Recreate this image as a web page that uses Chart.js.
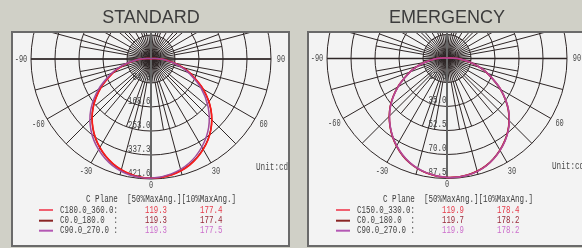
<!DOCTYPE html>
<html><head><meta charset="utf-8">
<script src="https://cdn.jsdelivr.net/npm/chart.js@4"></script>
<style>html,body{margin:0;padding:0;background:#d0d0c7;}canvas{display:block}</style>
</head><body>
<canvas id="c" width="582" height="248"></canvas>
<script>
// ---------- data ----------
const angles = [0, 10, 20, 30, 40, 50, 60, 70, 75, 80, 85, 90, 100, 120, 150, 180];

const stdC180Left  = [419, 411, 391, 359, 317, 265, 204, 142, 112, 82, 56, 37, 10, 2.5, 1.3, 1.3];
const stdC180Right = [419, 414, 397, 367, 327, 275, 212, 147, 116, 85, 57, 37, 10, 2.5, 1.3, 1.3];
const stdC0Left    = [419, 412, 392, 360, 318, 266, 205, 143, 113, 83, 56, 37, 10, 2.5, 1.3, 1.3];
const stdC0Right   = [419, 413, 396, 366, 326, 274, 211, 146, 115, 84, 57, 37, 10, 2.5, 1.3, 1.3];
const stdC90Left   = [419, 415, 398, 368, 328, 276, 213, 148, 117, 86, 58, 38, 11, 2.6, 1.3, 1.3];
const stdC90Right  = [419, 410, 390, 357, 315, 262, 202, 140, 110, 81, 55, 36, 10, 2.5, 1.3, 1.3];

const emC150Left   = [86.8, 84.8, 80.5, 73.5, 64.5, 53.8, 41.3, 28.7, 22.7, 16.8, 11.4, 7.5, 2.1, 0.5, 0.3, 0.3];
const emC150Right  = [86.8, 86.3, 83.3, 77.3, 69.2, 58.5, 45.2, 31.3, 24.7, 18.1, 12.1, 7.8, 2.2, 0.5, 0.3, 0.3];
const emC0Left     = [86.8, 84.9, 80.7, 73.7, 64.7, 54.0, 41.4, 28.8, 22.8, 16.8, 11.4, 7.5, 2.1, 0.5, 0.3, 0.3];
const emC0Right    = [86.8, 86.2, 83.1, 77.1, 69.0, 58.3, 45.0, 31.2, 24.6, 18.0, 12.0, 7.7, 2.2, 0.5, 0.3, 0.3];
const emC90Left    = [86.8, 84.7, 80.4, 73.4, 64.4, 53.7, 41.2, 28.6, 22.6, 16.7, 11.3, 7.4, 2.1, 0.5, 0.3, 0.3];
const emC90Right   = [86.8, 86.4, 83.4, 77.4, 69.3, 58.6, 45.3, 31.4, 24.8, 18.2, 12.2, 7.8, 2.2, 0.5, 0.3, 0.3];

const stdRingTicks = [84.3, 168.6, 253.0, 337.3, 421.6];
const emRingTicks  = [17.5, 35.0, 52.5, 70.0, 87.5];
const angleTicks   = [-90, -60, -30, 0, 30, 60, 90];

const titles = ['STANDARD', 'EMERGENCY'];
const legendHeader = 'C Plane  [50%MaxAng.][10%MaxAng.]';
const unitLabel = 'Unit:cd';
const stdPlanes = ['C180.0_360.0:', 'C0.0_180.0  :', 'C90.0_270.0 :'];
const stdBeam50 = ['119.3', '119.3', '119.3'];
const stdBeam10 = ['177.4', '177.4', '177.5'];
const emPlanes  = ['C150.0_330.0:', 'C0.0_180.0  :', 'C90.0_270.0 :'];
const emBeam50  = ['119.9', '119.7', '119.9'];
const emBeam10  = ['178.4', '178.2', '178.2'];

// ---------- layout ----------
const W = 582, H = 248;
const panels = [
  {id: 's', cx: 151, cy: 59, R: 120, ticks: stdRingTicks, box: {l: 12, t: 32, r: 289, b: 246}, lx: 0,
   planes: stdPlanes, b50: stdBeam50, b10: stdBeam10, title: titles[0]},
  {id: 'e', cx: 447, cy: 58.5, R: 120, ticks: emRingTicks, box: {l: 308, t: 32, r: 640, b: 246}, lx: 297,
   planes: emPlanes, b50: emBeam50, b10: emBeam10, title: titles[1]}
];
const lineCols  = ['#f06070', '#8a2424', '#b458b4'];
const valueCols = ['#e63a4a', '#982838', '#cc6fcc'];
const TXT = '#3e3e3e';

function scaleCfg(p) {
  const m = p.ticks[p.ticks.length - 1];
  return {
    x: {type: 'linear', display: false, min: -p.cx * m / p.R, max: (W - p.cx) * m / p.R},
    y: {type: 'linear', display: false, min: -(H - p.cy) * m / p.R, max: p.cy * m / p.R}
  };
}
function curve(left, right) {
  const pts = [];
  for (let i = angles.length - 1; i >= 0; i--) {
    const t = angles[i] * Math.PI / 180;
    pts.push({x: -left[i] * Math.sin(t), y: -left[i] * Math.cos(t)});
  }
  for (let i = 1; i < angles.length; i++) {
    const t = angles[i] * Math.PI / 180;
    pts.push({x: right[i] * Math.sin(t), y: -right[i] * Math.cos(t)});
  }
  return pts;
}
function ds(pts, color, p, w) {
  return {data: pts, xAxisID: 'x' + p, yAxisID: 'y' + p, showLine: true, pointRadius: 0,
          borderColor: color, borderWidth: w || 1.5, tension: 0.35, fill: false};
}

const sS = scaleCfg(panels[0]), sE = scaleCfg(panels[1]);

function monoText(ctx, str, x, y, color, align, adv, size) {
  adv = adv || 4.5; size = size || 10.5;
  ctx.save();
  ctx.font = size + 'px "Liberation Mono", monospace';
  const w = ctx.measureText(str).width;
  const s = adv * str.length / w;
  const tw = adv * str.length;
  let x0 = x;
  if (align === 'right') x0 = x - tw;
  else if (align === 'center') x0 = x - tw / 2;
  ctx.translate(x0, y); ctx.scale(s, 1);
  ctx.fillStyle = color; ctx.textBaseline = 'middle'; ctx.textAlign = 'left';
  ctx.fillText(str, 0, 0);
  ctx.restore();
}

const polarPlugin = {
  id: 'polar',
  beforeDraw(chart) {
    const ctx = chart.ctx;
    ctx.save();
    ctx.fillStyle = '#d0d0c7'; ctx.fillRect(0, 0, W, H);
    panels.forEach(p => {
      ctx.fillStyle = '#f3f3f3';
      ctx.fillRect(p.box.l, p.box.t, p.box.r - p.box.l, p.box.b - p.box.t);
      ctx.fillStyle = '#3c3c3c';
      ctx.font = '18px "Liberation Sans", Arial, sans-serif';
      ctx.textAlign = 'center'; ctx.textBaseline = 'alphabetic';
      ctx.fillText(p.title, p.cx, 23.3);
    });
    ctx.restore();
  },
  beforeDatasetsDraw(chart) {
    const ctx = chart.ctx;
    panels.forEach(p => {
      const xs = chart.scales['x' + p.id], ys = chart.scales['y' + p.id];
      const X = v => xs.getPixelForValue(v), Y = v => ys.getPixelForValue(v);
      const cx = X(0), cy = Y(0);
      const rad = v => X(v) - X(0);
      const pt = (r, deg) => {
        const t = deg * Math.PI / 180;
        return [X(r * Math.sin(t)), Y(-r * Math.cos(t))];
      };
      const outer = p.ticks[p.ticks.length - 1];
      ctx.save();
      ctx.beginPath();
      ctx.rect(p.box.l, p.box.t, p.box.r - p.box.l, p.box.b - p.box.t);
      ctx.clip();
      ctx.strokeStyle = '#2e2626'; ctx.lineWidth = 1;
      // rings
      p.ticks.forEach(v => {
        ctx.beginPath(); ctx.arc(cx, cy, rad(v), 0, Math.PI * 2); ctx.stroke();
      });
      // fine spokes near the centre
      for (let a = 0; a < 360; a += 5) {
        if (a % 15 === 0 || a % 10 === 0) continue;
        const [x1, y1] = pt(p.ticks[0], a);
        ctx.beginPath(); ctx.moveTo(cx, cy); ctx.lineTo(x1, y1); ctx.stroke();
      }
      // 10-degree spokes to the 3rd ring
      for (let a = 0; a < 360; a += 10) {
        if (a % 30 === 0) continue;
        const [x1, y1] = pt(p.ticks[2], a);
        ctx.beginPath(); ctx.moveTo(cx, cy); ctx.lineTo(x1, y1); ctx.stroke();
      }
      // major spokes
      for (let a = 0; a < 360; a += 15) {
        if (a === 0 || a === 180) continue;
        const [x1, y1] = pt(outer, a);
        ctx.beginPath(); ctx.moveTo(cx, cy); ctx.lineTo(x1, y1); ctx.stroke();
      }
      ctx.lineWidth = 1.3;
      ctx.beginPath();
      ctx.moveTo(...pt(outer, -90)); ctx.lineTo(...pt(outer, 90)); ctx.stroke();
      ctx.strokeStyle = '#666'; ctx.lineWidth = 2;
      ctx.beginPath(); ctx.moveTo(cx, p.box.t); ctx.lineTo(...pt(outer, 0)); ctx.stroke();
      ctx.restore();

      p.ticks.forEach(v => {
        monoText(ctx, v.toFixed(1), cx - 0.5, cy + rad(v) - 6, '#444', 'right', 4.5);
      });
      angleTicks.forEach(a => {
        const r = a === 0 ? outer * 126 / 120 : outer * 130 / 120;
        const [lx, ly] = pt(r, a);
        monoText(ctx, String(a), lx, ly, '#4a4a4a', 'center', 4.2);
      });
      monoText(ctx, unitLabel, cx + 105, cy + 108, '#4a4a4a', 'left', 4.6);
    });
  },
  afterDatasetsDraw(chart) {
    const ctx = chart.ctx;
    panels.forEach(p => {
      const o = p.lx;
      ctx.save();
      ctx.strokeStyle = '#6a6a6a'; ctx.lineWidth = 2;
      ctx.beginPath();
      ctx.moveTo(p.box.r, p.box.b); ctx.lineTo(p.box.l, p.box.b);
      ctx.lineTo(p.box.l, p.box.t); ctx.lineTo(p.box.r, p.box.t);
      if (p.box.r < W) ctx.closePath();
      ctx.stroke();
      ctx.restore();
      monoText(ctx, legendHeader, 86 + o, 199, TXT, 'left', 4.55);
      const rows = [210, 220.7, 230.7];
      rows.forEach((y, i) => {
        ctx.save();
        ctx.strokeStyle = lineCols[i]; ctx.lineWidth = 2;
        ctx.beginPath(); ctx.moveTo(39 + o, y); ctx.lineTo(53 + o, y); ctx.stroke();
        ctx.restore();
        monoText(ctx, p.planes[i], 60 + o, y, TXT, 'left', 4.46);
        monoText(ctx, p.b50[i], 145 + o, y, valueCols[i], 'left', 4.4);
        monoText(ctx, p.b10[i], 200 + o, y, valueCols[i], 'left', 4.5);
      });
    });
  }
};

new Chart(document.getElementById('c'), {
  type: 'scatter',
  data: {
    datasets: [
      ds(curve(stdC90Left, stdC90Right), '#a04c9c', 's'),
      ds(curve(stdC180Left, stdC180Right), '#ff1a1a', 's'),
      ds(curve(stdC0Left, stdC0Right), '#8a1a1a', 's'),
      ds(curve(emC90Left, emC90Right), '#b04a9c', 'e'),
      ds(curve(emC150Left, emC150Right), '#e0203a', 'e'),
      ds(curve(emC0Left, emC0Right), '#8a1a1a', 'e')
    ]
  },
  options: {
    responsive: false, animation: false, devicePixelRatio: 1, events: [],
    layout: {padding: 0},
    plugins: {legend: {display: false}, tooltip: {enabled: false}, title: {display: false}},
    scales: {xs: sS.x, ys: sS.y, xe: sE.x, ye: sE.y}
  },
  plugins: [polarPlugin]
});
</script>
</body></html>
